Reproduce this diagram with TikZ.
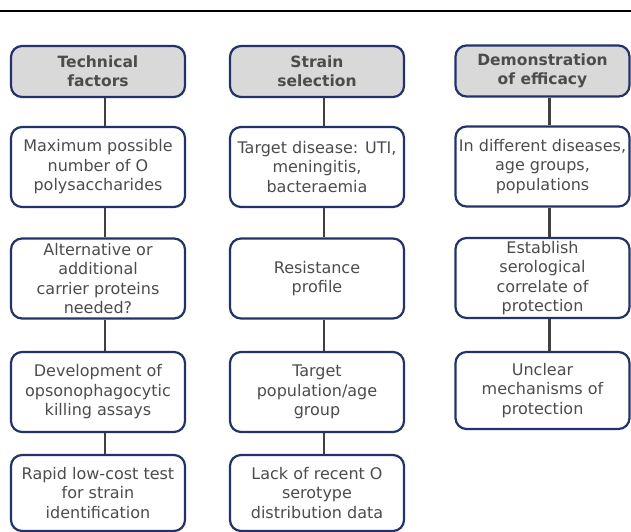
\documentclass[tikz,border=0pt]{standalone}
\usepackage{fontspec}
\setmainfont{DejaVu Sans}
\usepackage{xcolor}
\definecolor{boxnavy}{rgb}{0.13, 0.20, 0.42}
\definecolor{headgray}{rgb}{0.85, 0.85, 0.85}
\definecolor{textgray}{rgb}{0.30, 0.30, 0.30}
\definecolor{linkgray}{rgb}{0.25, 0.25, 0.25}
\usepackage{tikz}
\tikzset{
	box/.style = {
			draw            = boxnavy,
			line width      = 2.2pt,
			rounded corners = 11pt,
			minimum width   = 174pt,
			minimum height  = 80pt,
			inner sep       = 1pt,
			align           = center,
			text            = textgray,
			font            = \fontsize{16}{19.5}\selectfont,
		},
	headbox/.style = {
			box,
			fill           = headgray,
			minimum height = 51pt,
			font           = \fontsize{15.5}{19}\selectfont\bfseries,
		},
	link/.style = {draw=linkgray, line width=2.4pt},
}

\begin{document}
\begin{tikzpicture}[x=1pt,y=1pt]
			      \useasboundingbox (0,0) rectangle (631,-532);
			      \draw[line width=2.5pt] (0,-11) -- (631,-11);
			      % column headers
			      \node[headbox] at (98,-71.5) (h1) {Technical\\factors};
			      \node[headbox] at (317,-71.5) (h2) {Strain\\selection};
			      \node[headbox] at (542.5,-71) (h3) {Demonstration\\of efficacy};
			      % technical factors
			      \node[box] at (98,-167) (a1) {Maximum possible\\number of O\\polysaccharides};
			      \node[box] at (98,-278.5) (a2) {Alternative or\\additional\\carrier proteins\\needed?};
			      \node[box] at (98,-392) (a3) {Development of\\opsonophagocytic\\killing assays};
			      \node[box, minimum height=76pt] at (98,-493) (a4) {Rapid low-cost test\\for strain\\identification};
			      % strain selection
			      \node[box] at (317,-167) (b1) {Target disease: UTI,\\meningitis,\\bacteraemia};
			      \node[box] at (317,-278.5) (b2) {Resistance\\profile};
			      \node[box] at (317,-392) (b3) {Target\\population/age\\group};
			      \node[box, minimum height=76pt] at (317,-493) (b4) {Lack of recent O\\serotype\\distribution data};
			      % demonstration of efficacy
			      \node[box] at (542.5,-166.5) (c1) {In different diseases,\\age groups,\\populations};
			      \node[box] at (542.5,-278) (c2) {Establish\\serological\\correlate of\\protection};
			      \node[box, minimum height=77pt] at (542.5,-390.5) (c3) {Unclear\\mechanisms of\\protection};
			      % connectors
			      \draw[link] ([xshift=7pt]h1.south) -- ([xshift=7pt]a1.north);
			      \draw[link] ([xshift=7pt]a1.south) -- ([xshift=7pt]a2.north);
			      \draw[link] ([xshift=7pt]a2.south) -- ([xshift=7pt]a3.north);
			      \draw[link] ([xshift=7pt]a3.south) -- ([xshift=7pt]a4.north);
			      \draw[link] ([xshift=7pt]h2.south) -- ([xshift=7pt]b1.north);
			      \draw[link] ([xshift=7pt]b1.south) -- ([xshift=7pt]b2.north);
			      \draw[link] ([xshift=7pt]b2.south) -- ([xshift=7pt]b3.north);
			      \draw[link] ([xshift=7pt]b3.south) -- ([xshift=7pt]b4.north);
			      \draw[link] ([xshift=7pt]h3.south) -- ([xshift=7pt]c1.north);
			      \draw[link] ([xshift=7pt]c1.south) -- ([xshift=7pt]c2.north);
			      \draw[link] ([xshift=7pt]c2.south) -- ([xshift=7pt]c3.north);
		      \end{tikzpicture}
\end{document}
